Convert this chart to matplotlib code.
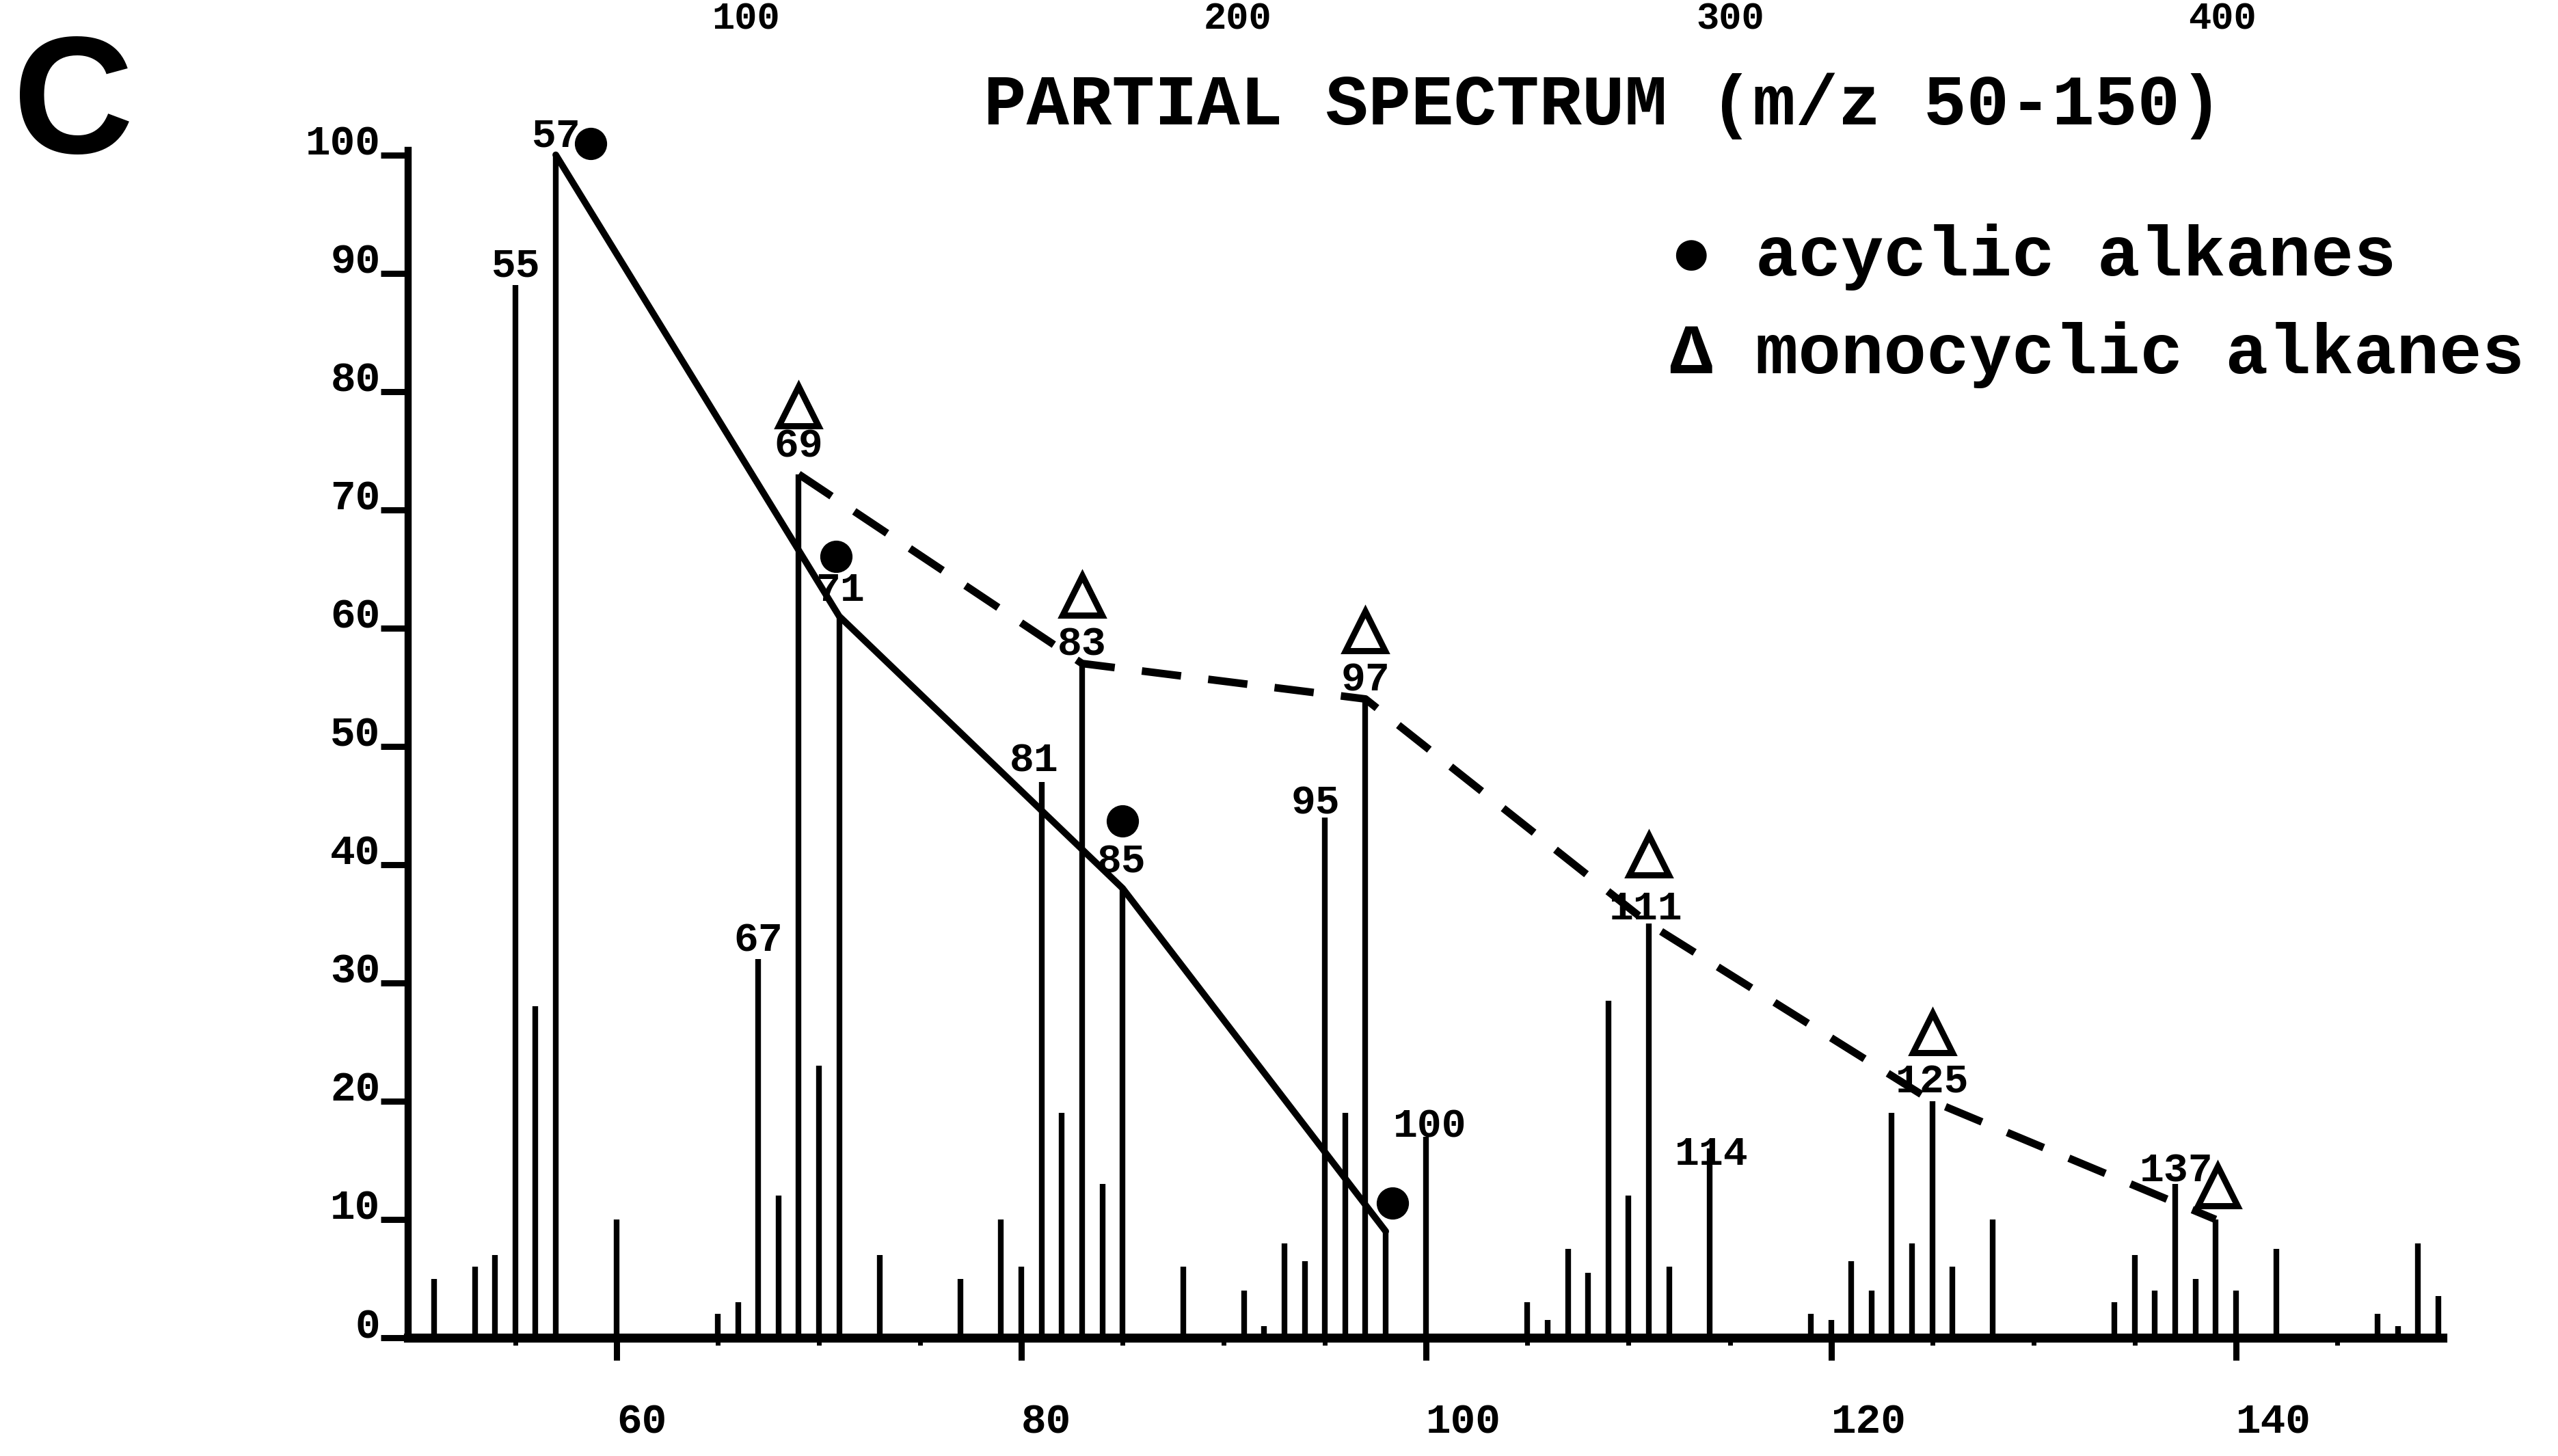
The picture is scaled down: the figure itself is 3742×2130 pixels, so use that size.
import matplotlib
matplotlib.use('Agg')
import matplotlib.pyplot as plt
from matplotlib.transforms import offset_copy

# peaks: m/z and relative intensity (%)
mz = [51, 53, 54, 55, 56, 57, 60, 65, 66, 67, 68, 69, 70, 71, 73,
      77, 79, 80, 81, 82, 83, 84, 85, 88, 91, 92, 93, 94, 95, 96, 97, 98, 100,
      105, 106, 107, 108, 109, 110, 111, 112, 114,
      119, 120, 121, 122, 123, 124, 125, 126, 128,
      134, 135, 136, 137, 138, 139, 140, 142, 147, 148, 149, 150]
intensity = [5, 6, 7, 89, 28, 100, 10, 2, 3, 32, 12, 73, 23, 61, 7,
             5, 10, 6, 47, 19, 57, 13, 38, 6, 4, 1, 8, 6.5, 44, 19, 54, 9, 17,
             3, 1.5, 7.5, 5.5, 28.5, 12, 35, 6, 16,
             2, 1.5, 6.5, 4, 19, 8, 20, 6, 10,
             3, 7, 4, 13, 5, 10, 4, 7.5, 2, 1, 8, 3.5]

labelled = [55, 57, 67, 69, 71, 81, 83, 85, 95, 97, 100, 111, 114, 125, 137]
acyclic = [57, 71, 85, 98]
monocyclic = [69, 83, 97, 111, 125, 139]

y_ticks = [0, 10, 20, 30, 40, 50, 60, 70, 80, 90, 100]
x_ticks = [60, 80, 100, 120, 140]
x_minor = [55, 65, 70, 75, 85, 90, 95, 105, 110, 115, 125, 130, 135, 145]
top_labels = ['100', '200', '300', '400']

peak = dict(zip(mz, intensity))
mono = ['Liberation Mono', 'DejaVu Sans Mono']

# label / marker offsets in points, relative to the peak top
label_off = {69: (0, 29), 71: (1, 27), 85: (-1, 28), 81: (-8, 22), 95: (-10, 15),
             100: (4, 11), 111: (-3, 16), 114: (2, -6), 137: (1, 14)}
tri_off = {139: (2, 35)}
dot_off = {57: (37, 12), 71: (-3, 63), 85: (0, 71), 98: (7, 30)}

fig = plt.figure(figsize=(37.42, 21.30), dpi=100)
ax = fig.add_axes([0.1595, 0.0812, 0.7953, 0.8157])
ax.set_xlim(49.7, 150.2)
ax.set_ylim(0, 100.4)

ax.vlines(mz, 0, intensity, color='black', lw=6, zorder=2)

# series lines through the peak tops
ax.plot(acyclic, [peak[m] for m in acyclic], color='black', lw=7, zorder=3,
        solid_capstyle='round', clip_on=False)
ax.plot(monocyclic, [peak[m] for m in monocyclic], color='black', lw=8,
        dashes=(5.2, 3.6), dash_capstyle='butt', zorder=3, clip_on=False)

for m in monocyclic:
    dx, dy = tri_off.get(m, (0, 72))
    tr = offset_copy(ax.transData, fig=fig, x=dx, y=dy, units='points')
    ax.plot([m], [peak[m]], marker='^', ms=42, mfc='white', mec='black',
            mew=6.5, transform=tr, clip_on=False, zorder=5)

for m in acyclic:
    dx, dy = dot_off[m]
    tr = offset_copy(ax.transData, fig=fig, x=dx, y=dy, units='points')
    ax.plot([m], [peak[m]], marker='o', ms=33, color='black',
            transform=tr, clip_on=False, zorder=5)

for m in labelled:
    dx, dy = label_off.get(m, (0, 20))
    ax.annotate(str(m), (m, peak[m]), xytext=(dx, dy), textcoords='offset points',
                ha='center', va='center', fontsize=43, fontweight='bold',
                family=mono, annotation_clip=False, zorder=4)

# axes styling
for s in ['top', 'right']:
    ax.spines[s].set_visible(False)
ax.spines['bottom'].set_linewidth(9.5)
ax.spines['left'].set_linewidth(7.5)

ax.set_yticks(y_ticks)
ax.set_yticklabels([str(v) for v in y_ticks], fontsize=44, fontweight='bold', family=mono)
ax.tick_params(axis='y', length=29, width=6.5, direction='out', pad=0)
for lab in ax.get_yticklabels():
    lab.set_va('baseline')

ax.set_xticks(x_ticks)
ax.set_xticklabels([str(v) for v in x_ticks], fontsize=44, fontweight='bold', family=mono)
for lab in ax.get_xticklabels():
    lab.set_ha('left')
ax.set_xticks(x_minor, minor=True)
ax.tick_params(axis='x', which='major', length=24, width=6.5, direction='out', pad=44)
ax.tick_params(axis='x', which='minor', length=8, width=5, direction='out')

# header texts
fig.text(107 / 3742, 1 - 224 / 2130, 'C', fontsize=176, fontweight='bold',
         family='Liberation Sans', ha='center', va='baseline')
fig.text(2345 / 3742, 1 - 182 / 2130, 'PARTIAL SPECTRUM (m/z 50-150)', fontsize=75,
         fontweight='bold', family=mono, ha='center', va='baseline')
fig.text(2443 / 3742, 1 - 403 / 2130, '\u25cf acyclic alkanes', fontsize=75,
         fontweight='bold', family=mono, ha='left', va='baseline')
fig.text(2443 / 3742, 1 - 546 / 2130, '\u0394 monocyclic alkanes', fontsize=75,
         fontweight='bold', family=mono, ha='left', va='baseline')

# axis labels of the panel above, at the very top edge
for lab, xc in zip(top_labels, [1091, 1810, 2531, 3251]):
    fig.text(xc / 3742, 1 - 2 / 2130, lab, fontsize=40, fontweight='bold',
             family=mono, ha='center', va='top')

fig.savefig('out.png', dpi=100)
